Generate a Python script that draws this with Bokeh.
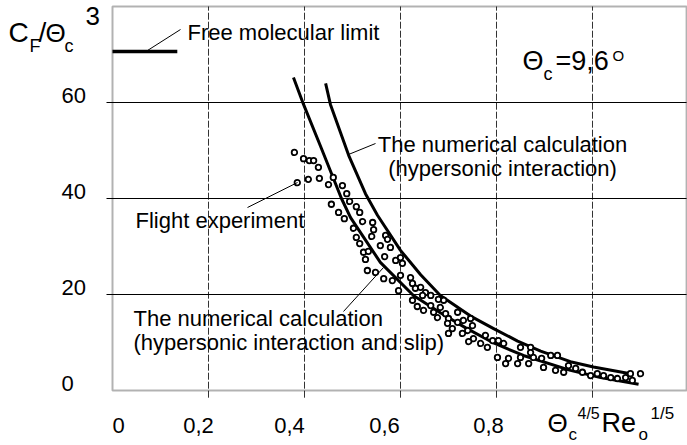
from bokeh.plotting import figure
from bokeh.models import Label, Range1d, BoxAnnotation
from bokeh.embed import file_html
from bokeh.resources import INLINE

# ---------------- data ----------------
x_ticks = [0.2, 0.4, 0.6, 0.8, 1.0]
y_ticks = [20, 40, 60]
x_tick_values = [0.0, 0.2, 0.4, 0.6, 0.8]
x_tick_labels = ["0", "0,2", "0,4", "0,6", "0,8"]
y_tick_values = [0, 20, 40, 60]
y_tick_labels = ["0", "20", "40", "60"]
x_limits = [0.0, 1.196]
y_limits = [0.0, 80.0]

free_mol_x = [0.0, 0.135]
free_mol_level = 70.6

# numerical calculation (hypersonic interaction)
hyp_x = [0.444, 0.454, 0.492, 0.527, 0.552, 0.600, 0.642, 0.683, 0.746, 0.794,
         0.844, 0.892, 0.954, 1.002, 1.079]
hyp_y = [64.0, 59.6, 49.0, 41.0, 36.5, 29.2, 24.1, 19.8, 15.5, 12.9,
         10.3, 8.2, 6.0, 4.9, 3.5]

# numerical calculation (hypersonic interaction and slip)
slip_x = [0.377, 0.398, 0.433, 0.477, 0.496, 0.558, 0.627, 0.683, 0.735, 0.794,
          0.856, 0.954, 1.017, 1.096]
slip_y = [65.2, 59.6, 51.0, 40.0, 36.0, 26.7, 19.8, 16.2, 13.1, 9.9,
          7.3, 4.2, 2.7, 1.3]

# flight experiment
flight_x = [0.379, 0.398, 0.410, 0.419, 0.429, 0.385, 0.408, 0.431, 0.450, 0.460,
            0.479, 0.488, 0.494, 0.456, 0.508, 0.515, 0.471, 0.483, 0.521, 0.542,
            0.544, 0.502, 0.508, 0.515, 0.523, 0.533, 0.527, 0.540, 0.558, 0.569,
            0.573, 0.579, 0.567, 0.590, 0.600, 0.604, 0.531, 0.548, 0.565, 0.583,
            0.600, 0.596, 0.621, 0.625, 0.631, 0.642, 0.652, 0.663, 0.679, 0.683,
            0.625, 0.635, 0.648, 0.663, 0.677, 0.694, 0.700, 0.646, 0.669, 0.690,
            0.698, 0.719, 0.708, 0.731, 0.740, 0.750, 0.729, 0.752, 0.767, 0.781,
            0.792, 0.804, 0.815, 0.850, 0.871, 0.802, 0.825, 0.850, 0.877, 0.894,
            0.913, 0.927, 0.719, 0.746, 0.700, 0.742, 0.777, 0.819, 0.844, 0.867,
            0.898, 0.923, 0.940, 0.950, 0.871, 0.965, 0.979, 0.996, 1.010, 1.023,
            1.038, 1.052, 1.069, 1.079, 1.100, 1.083]
flight_y = [49.6, 48.3, 47.9, 47.9, 46.5, 43.3, 44.0, 44.2, 42.9, 44.4,
            42.7, 41.0, 39.4, 38.8, 38.3, 37.1, 37.1, 35.8, 35.2, 35.0,
            33.5, 33.8, 31.9, 30.6, 28.8, 29.0, 27.3, 32.1, 30.2, 32.3,
            31.5, 29.8, 27.9, 27.1, 27.7, 26.5, 25.0, 24.6, 23.3, 22.9,
            24.0, 20.8, 23.5, 22.3, 21.3, 21.5, 20.4, 19.8, 19.0, 17.3,
            18.8, 17.5, 16.7, 17.7, 15.2, 16.0, 15.0, 19.8, 16.3, 18.8,
            14.0, 14.2, 12.9, 14.6, 12.5, 13.5, 11.9, 10.8, 9.8, 9.0,
            10.4, 10.4, 9.8, 9.0, 9.0, 6.9, 6.7, 6.9, 6.9, 6.7,
            7.3, 7.3, 16.3, 15.0, 11.9, 10.2, 11.5, 5.6, 5.6, 5.6,
            4.8, 4.2, 3.8, 5.2, 7.9, 4.6, 3.8, 3.1, 3.5, 3.1,
            2.7, 2.5, 2.7, 3.5, 3.5, 2.1]

# ---------------- layout ----------------
W, H = 687, 445
FRAME_L, FRAME_B = 112, 390   # canvas pixel position of the data origin
PX_X = 480.0                  # pixels per x unit
PX_Y = 4.8                    # pixels per y unit


def X(px):
    return (px - FRAME_L) / PX_X


def Y(py):
    return (FRAME_B - py) / PX_Y


FONT = "Liberation Sans"

p = figure(width=W, height=H,
           x_range=Range1d(X(0), X(W)), y_range=Range1d(Y(H), Y(0)),
           x_axis_type=None, y_axis_type=None,
           toolbar_location=None, output_backend="svg",
           min_border_left=0, min_border_right=0,
           min_border_top=0, min_border_bottom=0)
p.outline_line_color = None
p.background_fill_color = "white"
p.border_fill_color = "white"

# grid lines (slightly protruding outside the box like the original)
p.segment(x0=x_ticks, x1=x_ticks, y0=[y_limits[0] - 1.5] * len(x_ticks),
          y1=[y_limits[1]] * len(x_ticks), line_color="#333333", line_width=1,
          line_dash="7 2")
p.segment(x0=[x_limits[0] - 0.0125] * len(y_ticks), x1=[x_limits[1]] * len(y_ticks),
          y0=y_ticks, y1=y_ticks, line_color="black", line_width=1)

# box
p.add_layout(BoxAnnotation(left=x_limits[0], right=x_limits[1],
                           bottom=y_limits[0], top=y_limits[1],
                           fill_alpha=0, line_color="black", line_width=2))

# free molecular limit
p.line(free_mol_x, [free_mol_level] * len(free_mol_x), line_color="black", line_width=3.5)

# curves
p.line(hyp_x, hyp_y, line_color="black", line_width=3, line_join="round")
p.line(slip_x, slip_y, line_color="black", line_width=3, line_join="round")

# flight experiment points
p.scatter(flight_x, flight_y, marker="circle", size=5.5, line_color="black",
          line_width=1.8, fill_color="white")

# leader lines
leaders = [((147, 50), (180, 29)),
           ((348, 154), (375, 143)),
           ((247, 207), (297, 182)),
           ((343, 311), (383, 267))]
for (a, b) in leaders:
    p.line([X(a[0]), X(b[0])], [Y(a[1]), Y(b[1])], line_color="black", line_width=1)


def lab(text, px, base_py, size, align="left", x_offset=0):
    # base_py is the baseline position; the label is vertically centred on the
    # middle of its capitals
    p.add_layout(Label(x=X(px), y=Y(base_py - 0.35 * size), x_offset=x_offset,
                       text=text, text_font=FONT,
                       text_font_size=f"{size}px", text_color="black",
                       text_baseline="middle", text_align=align))


# annotations
lab("Free molecular limit", 187, 40, 22)
lab("The numerical calculation", 502, 152, 22, "center")
lab("(hypersonic interaction)", 502, 176, 22, "center")
lab("Flight experiment", 135, 228, 22)
lab("The numerical calculation", 133, 326, 22)
lab("(hypersonic interaction and slip)", 133, 350, 22)

# Θc = 9,6°
lab("Θ", 522, 70, 27)
lab("c", 543, 80, 18)
lab("=9,6", 555, 70, 27)
lab("O", 612, 60, 15)

# y tick labels
for v, s in zip(y_tick_values, y_tick_labels):
    lab(s, 61, FRAME_B - v * PX_Y + 1, 22)

# x tick labels
x_label_offsets = [6, -10, -15, -16, -8]
for v, s, off in zip(x_tick_values, x_tick_labels, x_label_offsets):
    lab(s, FRAME_L + v * PX_X, 433, 22, "center", off)

# y axis title  C_F / Θ_c ^3
lab("C", 8, 42, 28)
lab("F", 29, 52, 18)
lab("/", 38, 42, 28)
lab("Θ", 45, 42, 26)
lab("c", 64, 52, 18)
lab("3", 85, 25, 26)

# x axis title  Θ_c^{4/5} Re_o^{1/5}
lab("Θ", 547, 432, 26)
lab("c", 568, 440, 17)
lab("4/5", 577, 419, 16)
lab("Re", 601, 432, 27)
lab("o", 638, 440, 17)
lab("1/5", 650, 419, 17)

open("out.html", "w").write(file_html(p, INLINE))
